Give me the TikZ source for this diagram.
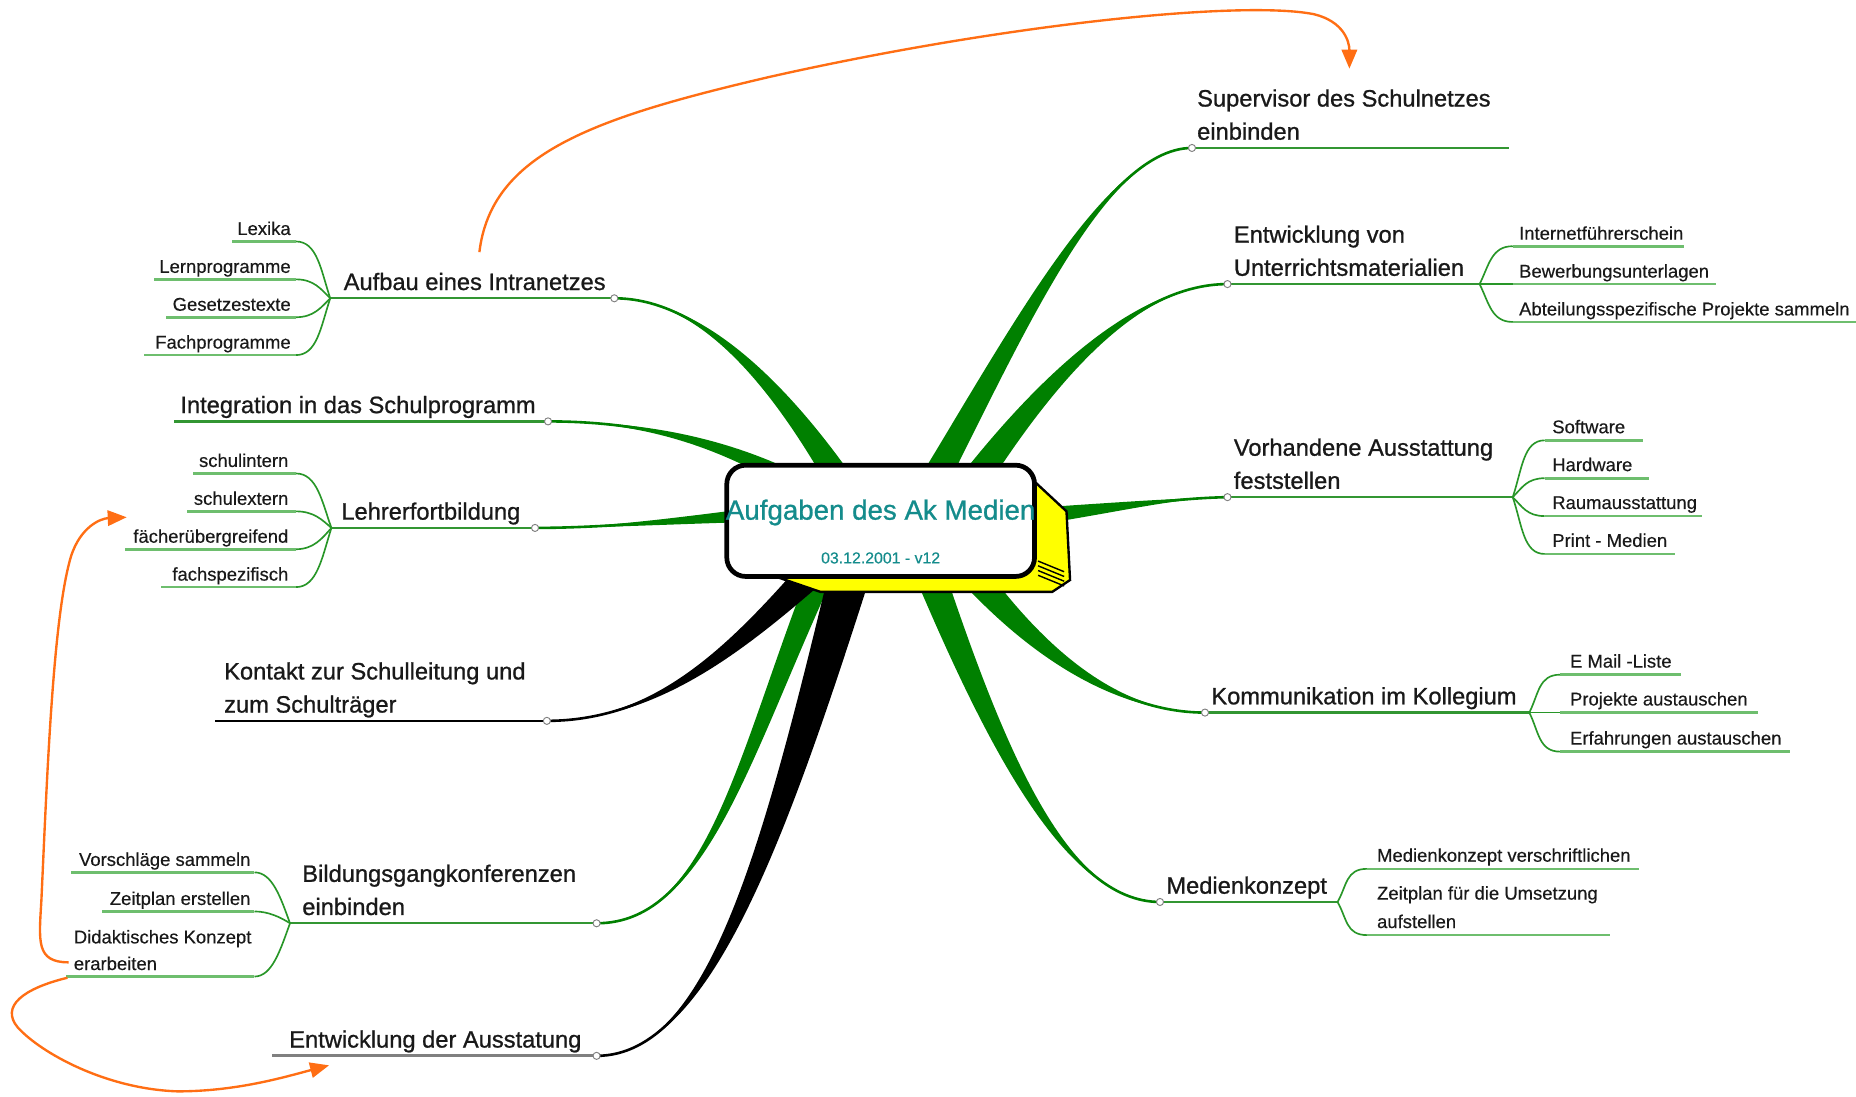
\documentclass[tikz,border=0pt]{standalone}
\usepackage{fontspec}
\setmainfont{Liberation Sans}
\newfontfamily\heavyfont{Liberation Sans}[FakeBold=0.9]
\newfontfamily\midfont{Liberation Sans}[FakeBold=0.35]
\usetikzlibrary{calc,arrows.meta}
\definecolor{brgreen}{RGB}{0,128,0}
\definecolor{lgreen}{RGB}{50,150,50}
\definecolor{sgreen}{RGB}{110,190,110}
\definecolor{fgreen}{RGB}{40,150,40}
\definecolor{orarrow}{RGB}{255,110,20}
\definecolor{tealt}{RGB}{20,140,140}
\definecolor{txt}{RGB}{25,25,25}
\definecolor{ygold}{RGB}{255,255,0}
\tikzset{
 mainlbl/.style={font=\heavyfont\fontsize{10}{12}\selectfont, text=txt, inner sep=0pt},
 sublbl/.style={font=\midfont\fontsize{7.8}{9.4}\selectfont, text=txt, inner sep=0pt},
 mainline/.style={draw=lgreen, line width=1pt},
 subline/.style={draw=sgreen, line width=1.1pt},
 forkline/.style={draw=fgreen, line width=0.7pt},
 dot/.style={circle, draw=gray, fill=white, line width=0.4pt, inner sep=0pt, minimum size=3pt},
 relarrow/.style={draw=orarrow, line width=1pt, -{Triangle[length=8pt,width=6.5pt]}},
 titlelbl/.style={font=\heavyfont\fontsize{11.7}{14}\selectfont, text=tealt, inner sep=0pt},
 datelbl/.style={font=\midfont\fontsize{6.7}{8}\selectfont, text=tealt, inner sep=0pt},
}
\newcommand{\taper}[6]{%
 \fill[#1] ($#2+#6$) .. controls ($#3+0.5*#6$) and #4 .. #5 .. controls #4 and ($#3-0.5*#6$) .. ($#2-#6$) -- cycle;
 \draw[#1, line width=1.1pt] #2 .. controls #3 and #4 .. #5;}
\newcommand{\leafbranch}[5]{%
 \draw[forkline] (#1) .. controls +#4 and +#5 .. #2;
 \draw[subline] #2 -- #3;}
\begin{document}
\begin{tikzpicture}[x=0.5pt,y=-0.5pt]
\useasboundingbox (0,0) rectangle (1568,926);
% branch end points and forks
\coordinate (p1) at (1007,125); \coordinate (u1) at (1275,125);
\coordinate (p2) at (1037,240); \coordinate (f2) at (1250,240);
\coordinate (p3) at (1037,420); \coordinate (f3) at (1278,420);
\coordinate (p4) at (1018,602); \coordinate (f4) at (1292,602);
\coordinate (p5) at (980,762);  \coordinate (f5) at (1130,762);
\coordinate (p6) at (519,252);  \coordinate (f6) at (279,252);
\coordinate (p7) at (463,356);  \coordinate (u7) at (147,356);
\coordinate (p8) at (452,446);  \coordinate (f8) at (280,446);
\coordinate (p9) at (462,609);  \coordinate (u9) at (182,609);
\coordinate (p10) at (504,780); \coordinate (f10) at (245,780);
\coordinate (p11) at (504,892); \coordinate (u11) at (230,892);

% tapered main branches
\taper{brgreen}{(770,440)}{(850,300)}{(930,125)}{(p1)}{(13,4)}
\taper{brgreen}{(800,440)}{(880,320)}{(960,240)}{(p2)}{(12,7)}
\taper{brgreen}{(860,438)}{(950,428)}{(990,421)}{(p3)}{(0,8)}
\taper{brgreen}{(810,470)}{(880,560)}{(950,602)}{(p4)}{(10,-8)}
\taper{brgreen}{(780,470)}{(840,630)}{(900,762)}{(p5)}{(13,-3)}
\taper{brgreen}{(730,440)}{(660,320)}{(590,252)}{(p6)}{(12,-5)}
\taper{brgreen}{(700,425)}{(620,372)}{(540,356)}{(p7)}{(4,-9)}
\taper{brgreen}{(680,432)}{(600,437)}{(520,446)}{(p8)}{(0,8)}
\taper{brgreen}{(700,470)}{(630,630)}{(600,780)}{(p10)}{(11,2)}
\taper{black}{(700,470)}{(630,540)}{(560,609)}{(p9)}{(10,9)}
\taper{black}{(722,470)}{(655,710)}{(600,892)}{(p11)}{(18,2)}

% main underlines
\draw[mainline] (p1) -- (u1);
\draw[mainline] (p2) -- (f2);
\draw[mainline] (p3) -- (f3);
\draw[mainline] (p4) -- (f4);
\draw[mainline] (p5) -- (f5);
\draw[mainline] (p6) -- (f6);
\draw[mainline] (p7) -- (u7);
\draw[mainline] (p8) -- (f8);
\draw[line width=1pt, black] (p9) -- (u9);
\draw[mainline] (p10) -- (f10);
\draw[line width=1.2pt, gray] (p11) -- (u11);

% sub items right
\leafbranch{f2}{(1278,208)}{(1423,208)}{(8,-16)}{(-18,0)}
\leafbranch{f2}{(1278,240)}{(1450,240)}{(8,0)}{(-8,0)}
\leafbranch{f2}{(1278,272)}{(1568,272)}{(8,16)}{(-18,0)}
\leafbranch{f3}{(1305,372)}{(1388,372)}{(8,-24)}{(-18,0)}
\leafbranch{f3}{(1305,404)}{(1393,404)}{(8,-8)}{(-15,0)}
\leafbranch{f3}{(1305,436)}{(1438,436)}{(8,8)}{(-15,0)}
\leafbranch{f3}{(1305,468)}{(1415,468)}{(8,24)}{(-18,0)}
\leafbranch{f4}{(1318,570)}{(1420,570)}{(8,-16)}{(-18,0)}
\leafbranch{f4}{(1318,602)}{(1485,602)}{(8,0)}{(-8,0)}
\leafbranch{f4}{(1318,635)}{(1512,635)}{(8,16)}{(-18,0)}
\leafbranch{f5}{(1155,734)}{(1385,734)}{(8,-14)}{(-18,0)}
\leafbranch{f5}{(1155,790)}{(1360,790)}{(8,14)}{(-18,0)}
% sub items left
\leafbranch{f6}{(250,204)}{(196,204)}{(-8,-24)}{(18,0)}
\leafbranch{f6}{(250,236)}{(130,236)}{(-8,-8)}{(15,0)}
\leafbranch{f6}{(250,268)}{(140,268)}{(-8,8)}{(15,0)}
\leafbranch{f6}{(250,300)}{(122,300)}{(-8,24)}{(18,0)}
\leafbranch{f8}{(250,400)}{(163,400)}{(-8,-22)}{(18,0)}
\leafbranch{f8}{(250,432)}{(158,432)}{(-8,-7)}{(15,0)}
\leafbranch{f8}{(250,464)}{(106,464)}{(-8,9)}{(15,0)}
\leafbranch{f8}{(250,496)}{(136,496)}{(-8,25)}{(18,0)}
\leafbranch{f10}{(215,737)}{(60,737)}{(-8,-22)}{(15,0)}
\leafbranch{f10}{(215,770)}{(86,770)}{(-8,-5)}{(12,0)}
\leafbranch{f10}{(215,825)}{(56,825)}{(-8,22)}{(15,0)}

% small circles
\foreach \p in {p1,p2,p3,p4,p5,p6,p7,p8,p9,p10,p11} \node[dot] at (\p) {};

% central box
\filldraw[fill=ygold, draw=black, line width=1pt] (850,396) -- (872,405) -- (901,432) -- (904,490) -- (889,500) -- (693,500) -- (655,487) -- cycle;
\foreach \k in {0,1,2,3} \draw[line width=0.6pt] ($(877,474)+(0,4*\k)$) -- ++(22,9);
\draw[line width=2pt, fill=white, rounded corners=8pt] (614,393) rectangle (874,487);
\node[titlelbl, anchor=base] (title) at (744,439) {Aufgaben des Ak Medien};
\node[datelbl, anchor=base] (date) at (744,476) {03.12.2001 - v12};

% main labels
\node[mainlbl, anchor=base west] (t1a) at (1011,90) {Supervisor des Schulnetzes};
\node[mainlbl, anchor=base west] (t1b) at (1011,118) {einbinden};
\node[mainlbl, anchor=base west] (t2a) at (1042,205) {Entwicklung von};
\node[mainlbl, anchor=base west] (t2b) at (1042,233) {Unterrichtsmaterialien};
\node[mainlbl, anchor=base west] (t3a) at (1042,385) {Vorhandene Ausstattung};
\node[mainlbl, anchor=base west] (t3b) at (1042,413) {feststellen};
\node[mainlbl, anchor=base west] (t4) at (1023,595) {Kommunikation im Kollegium};
\node[mainlbl, anchor=base west] (t5) at (985,755) {Medienkonzept};
\node[mainlbl, anchor=base west] (t6) at (290,245) {Aufbau eines Intranetzes};
\node[mainlbl, anchor=base west] (t7) at (152,349) {Integration in das Schulprogramm};
\node[mainlbl, anchor=base west] (t8) at (288,439) {Lehrerfortbildung};
\node[mainlbl, anchor=base west] (t9a) at (189,574) {Kontakt zur Schulleitung und};
\node[mainlbl, anchor=base west] (t9b) at (189,602) {zum Schulträger};
\node[mainlbl, anchor=base west] (t10a) at (255,745) {Bildungsgangkonferenzen};
\node[mainlbl, anchor=base west] (t10b) at (255,773) {einbinden};
\node[mainlbl, anchor=base west] (t11) at (244,885) {Entwicklung der Ausstatung};

% sub labels right
\node[sublbl, anchor=base west] (s21) at (1283,202.5) {Internetführerschein};
\node[sublbl, anchor=base west] (s22) at (1283,234.5) {Bewerbungsunterlagen};
\node[sublbl, anchor=base west] (s23) at (1283,266.5) {Abteilungsspezifische Projekte sammeln};
\node[sublbl, anchor=base west] (s31) at (1311,366) {Software};
\node[sublbl, anchor=base west] (s32) at (1311,398) {Hardware};
\node[sublbl, anchor=base west] (s33) at (1311,430) {Raumausstattung};
\node[sublbl, anchor=base west] (s34) at (1311,462) {Print - Medien};
\node[sublbl, anchor=base west] (s41) at (1326,564) {E Mail -Liste};
\node[sublbl, anchor=base west] (s42) at (1326,596) {Projekte austauschen};
\node[sublbl, anchor=base west] (s43) at (1326,629) {Erfahrungen austauschen};
\node[sublbl, anchor=base west] (s51) at (1163,728) {Medienkonzept verschriftlichen};
\node[sublbl, anchor=base west] (s52a) at (1163,760) {Zeitplan für die Umsetzung};
\node[sublbl, anchor=base west] (s52b) at (1163,784) {aufstellen};
% sub labels left
\node[sublbl, anchor=base east] (s61) at (246,198.5) {Lexika};
\node[sublbl, anchor=base east] (s62) at (246,230.5) {Lernprogramme};
\node[sublbl, anchor=base east] (s63) at (246,262.5) {Gesetzestexte};
\node[sublbl, anchor=base east] (s64) at (246,294.5) {Fachprogramme};
\node[sublbl, anchor=base east] (s81) at (244,394.5) {schulintern};
\node[sublbl, anchor=base east] (s82) at (244,426.5) {schulextern};
\node[sublbl, anchor=base east] (s83) at (244,458.5) {fächerübergreifend};
\node[sublbl, anchor=base east] (s84) at (244,490.5) {fachspezifisch};
\node[sublbl, anchor=base east] (s101) at (212,731.5) {Vorschläge sammeln};
\node[sublbl, anchor=base east] (s102) at (212,764.5) {Zeitplan erstellen};
\node[sublbl, anchor=base west] (s103a) at (62,797) {Didaktisches Konzept};
\node[sublbl, anchor=base west] (s103b) at (62,819.5) {erarbeiten};

% orange relation arrows
\coordinate (oa) at (405,213); \coordinate (oaE) at (1140,58);
\draw[relarrow] (oa) .. controls (415,130) and (500,100) .. (650,65) .. controls (850,20) and (1050,0) .. (1110,12) .. controls (1135,18) and (1140,35) .. (oaE);
\coordinate (ob) at (58,813); \coordinate (obE) at (107,437);
\draw[relarrow] (ob) .. controls (30,813) and (33,795) .. (35,760) .. controls (40,650) and (45,520) .. (60,470) .. controls (68,445) and (85,438) .. (obE);
\coordinate (oc) at (57,826); \coordinate (ocE) at (278,900);
\draw[relarrow] (oc) .. controls (20,835) and (0,850) .. (15,868) .. controls (35,890) and (90,920) .. (150,922) .. controls (200,922) and (240,910) .. (ocE);
\end{tikzpicture}
\end{document}
